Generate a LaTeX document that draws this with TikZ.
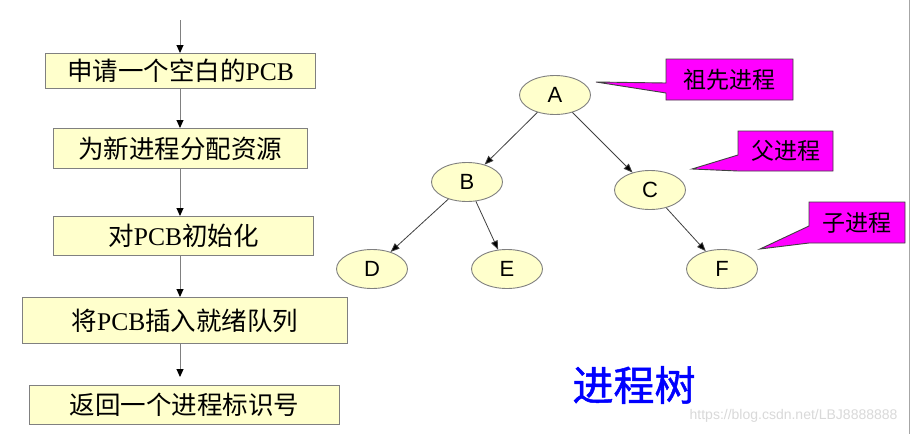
\documentclass[tikz,border=0pt]{standalone}
\usepackage{fontspec}
\setmainfont{Liberation Serif}
\newfontfamily\cjk{Noto Sans CJK SC}
\newfontfamily\cjktitle{Noto Sans CJK SC}[FakeBold=1.2]
\newfontfamily\lsans{Liberation Sans}
\usetikzlibrary{shapes.geometric,arrows.meta}
\definecolor{boxfill}{HTML}{FFFFCC}
\definecolor{boxline}{HTML}{808080}
\definecolor{callfill}{HTML}{FF00FF}
\definecolor{callline}{HTML}{404040}
\definecolor{treeblue}{HTML}{0000FF}
\tikzset{
  flowbox/.style={draw=boxline, line width=0.9pt, fill=boxfill, inner sep=0pt, anchor=north west,
    font=\cjk\fontsize{25.5}{27}\selectfont},
  flowarrow/.style={draw=boxline, line width=1pt, -{Triangle[length=8pt,width=7pt,fill=black,color=black]}},
  treenode/.style={ellipse, draw=boxline, line width=0.9pt, fill=boxfill, minimum width=71pt, minimum height=39pt,
    inner sep=0pt, font=\lsans\fontsize{22}{23}\selectfont},
  treearrow/.style={draw=black!75, line width=0.8pt, -{Triangle[length=9pt,width=7pt,fill=black]}},
  callout/.style={draw=callline, line width=0.9pt, fill=callfill},
  calltext/.style={font=\cjk\fontsize{23}{25}\selectfont, text=black},
}
\begin{document}
\begin{tikzpicture}[x=1pt,y=-1pt]
\useasboundingbox (0,0) rectangle (910,434);
\fill[white] (0,0) rectangle (910,434);
\draw[boxline!70, line width=1pt] (909.5,0) -- (909.5,434);

% flowchart
\node[flowbox, minimum width=270pt, minimum height=35pt] (b1) at (45,53) {申请一个空白的{\rmfamily PCB}};
\node[flowbox, minimum width=254pt, minimum height=40pt] (b2) at (53,128) {为新进程分配资源};
\node[flowbox, minimum width=260pt, minimum height=39pt] (b3) at (53,216) {对{\rmfamily PCB}初始化};
\node[flowbox, minimum width=325pt, minimum height=46pt] (b4) at (22,297) {将{\rmfamily PCB}插入就绪队列};
\node[flowbox, minimum width=310pt, minimum height=39pt] (b5) at (29,385) {返回一个进程标识号};
\coordinate (top) at (180,20);
\coordinate (b5in) at (180,377);
\draw[flowarrow] (top) -- (top |- b1.north);
\draw[flowarrow] (b1.south -| top) -- (b2.north -| top);
\draw[flowarrow] (b2.south -| top) -- (b3.north -| top);
\draw[flowarrow] (b3.south -| top) -- (b4.north -| top);
\draw[flowarrow] (b4.south -| top) -- (b5in);

% tree
\node[treenode] (A) at (555,95) {A};
\node[treenode] (B) at (467,182) {B};
\node[treenode] (C) at (650,190) {C};
\node[treenode] (D) at (372,269) {D};
\node[treenode] (E) at (507,269) {E};
\node[treenode] (F) at (722,269) {F};
\draw[treearrow] (A) -- (B);
\draw[treearrow] (A) -- (C);
\draw[treearrow] (B) -- (D);
\draw[treearrow] (B) -- (E);
\draw[treearrow] (C) -- (F);

% callouts
\coordinate (t1) at (596,82);
\draw[callout] (666,59) -- (793,59) -- (793,100) -- (666,100) -- (666,93) -- (t1) -- (666,83) -- cycle;
\node[calltext] (c1) at (729.5,79.5) {祖先进程};
\coordinate (t2) at (692,169);
\draw[callout] (738,131) -- (833,131) -- (833,171) -- (738,171) -- (t2) -- (738,155) -- cycle;
\node[calltext] (c2) at (785.5,151) {父进程};
\coordinate (t3) at (760,249);
\draw[callout] (809,202) -- (905,202) -- (905,243) -- (809,243) -- (t3) -- (809,226) -- cycle;
\node[calltext] (c3) at (857,222.5) {子进程};

% title
\node[font=\cjktitle\fontsize{41}{43}\selectfont, text=treeblue] (title) at (634,385) {进程树};
\node[font=\lsans\fontsize{14}{15}\selectfont, text=black!15, anchor=east] (wm) at (901,416) {https://blog.csdn.net/LBJ8888888};
\end{tikzpicture}
\end{document}
